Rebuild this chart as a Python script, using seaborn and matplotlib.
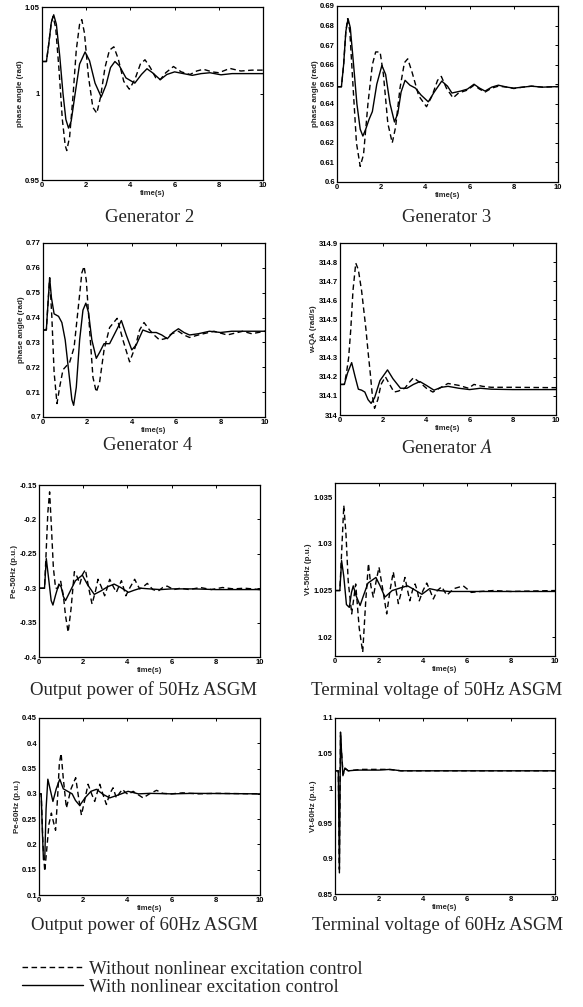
import pandas as pd
import matplotlib
matplotlib.use("Agg")
import matplotlib.pyplot as plt
from matplotlib.lines import Line2D
import seaborn as sns

sns.set_style("white")
plt.rcParams['font.family'] = ['Liberation Sans', 'DejaVu Sans']
plt.rcParams['mathtext.fontset'] = 'stix'

WITHOUT = 'Without nonlinear excitation control'
WITH = 'With nonlinear excitation control'

# ---- Generator 2 phase angle (rad)
g2_t_with = [0, 0.2, 0.3, 0.42, 0.53, 0.65, 0.8, 0.95, 1.08, 1.2, 1.32, 1.5, 1.7, 1.95, 2.15, 2.4, 2.68, 2.9, 3.1, 3.3,
             3.5, 3.8, 4.2, 4.5, 4.75, 5.0, 5.35, 5.65, 6.0, 6.4, 6.8, 7.2, 7.6, 8.1, 8.6, 9.2, 10]
g2_with = [1.0185, 1.0185, 1.028, 1.041, 1.0455, 1.040, 1.022, 1.000, 0.985, 0.980, 0.984, 1.000, 1.017, 1.024, 1.019,
           1.006, 0.998, 1.005, 1.015, 1.0185, 1.016, 1.009, 1.006, 1.011, 1.0143, 1.012, 1.008, 1.011, 1.0125, 1.0115,
           1.0105, 1.0115, 1.012, 1.0108, 1.0115, 1.0115, 1.0115]
g2_t_without = [0, 0.2, 0.3, 0.42, 0.5, 0.62, 0.78, 0.92, 1.05, 1.12, 1.25, 1.4, 1.55, 1.7, 1.8, 1.92, 2.1, 2.3, 2.48,
                2.65, 2.85, 3.05, 3.25, 3.45, 3.7, 3.95, 4.2, 4.45, 4.66, 4.9, 5.15, 5.35, 5.6, 5.95, 6.3, 6.7, 7.0,
                7.3, 7.7, 8.0, 8.5, 9.0, 9.5, 10]
g2_without = [1.0185, 1.0185, 1.028, 1.041, 1.0445, 1.038, 1.012, 0.985, 0.970, 0.967, 0.975, 0.998, 1.025, 1.040,
              1.0427, 1.035, 1.010, 0.992, 0.9886, 0.998, 1.015, 1.025, 1.027, 1.020, 1.007, 1.0025, 1.008, 1.017,
              1.0195, 1.015, 1.009, 1.008, 1.012, 1.0156, 1.0125, 1.011, 1.013, 1.014, 1.0125, 1.012, 1.0145, 1.013,
              1.0135, 1.0135]

# ---- Generator 3 phase angle (rad)
g3_t_with = [0, 0.2, 0.3, 0.4, 0.5, 0.6, 0.75, 0.9, 1.05, 1.17, 1.3, 1.45, 1.6, 1.8, 2.03, 2.2, 2.4, 2.6, 2.75, 2.9,
             3.08, 3.3, 3.55, 3.8, 4.13, 4.4, 4.74, 5.0, 5.2, 5.6, 5.9, 6.2, 6.45, 6.7, 7.0, 7.3, 7.7, 8.0, 8.4, 8.8,
             9.3, 10]
g3_with = [0.6487, 0.6487, 0.660, 0.677, 0.6835, 0.679, 0.660, 0.640, 0.627, 0.6235, 0.627, 0.632, 0.636, 0.650,
           0.6596, 0.655, 0.640, 0.6307, 0.635, 0.646, 0.652, 0.6495, 0.648, 0.6445, 0.641, 0.646, 0.6516, 0.649,
           0.6455, 0.6465, 0.6475, 0.650, 0.648, 0.6465, 0.6485, 0.6495, 0.6485, 0.648, 0.6485, 0.649, 0.6485, 0.6488]
g3_t_without = [0, 0.2, 0.3, 0.4, 0.48, 0.58, 0.72, 0.88, 1.05, 1.2, 1.4, 1.6, 1.75, 1.95, 2.1, 2.3, 2.5, 2.65, 2.85,
                3.05, 3.2, 3.4, 3.7, 4.05, 4.3, 4.55, 4.72, 4.95, 5.25, 5.5, 5.9, 6.2, 6.45, 6.7, 7.0, 7.3, 7.7, 8.0,
                8.4, 8.8, 9.3, 10]
g3_without = [0.6487, 0.6487, 0.660, 0.677, 0.6835, 0.677, 0.650, 0.620, 0.608, 0.614, 0.640, 0.660, 0.6665, 0.6665,
              0.655, 0.630, 0.620, 0.628, 0.648, 0.661, 0.663, 0.656, 0.644, 0.6385, 0.644, 0.652, 0.654, 0.648,
              0.643, 0.6455, 0.647, 0.6495, 0.6475, 0.646, 0.648, 0.649, 0.6485, 0.6478, 0.6485, 0.649, 0.6485, 0.6488]

# ---- Generator 4 phase angle (rad)
g4_t_with = [0, 0.15, 0.22, 0.3, 0.38, 0.5, 0.7, 0.85, 1.0, 1.15, 1.3, 1.38, 1.5, 1.65, 1.8, 1.93, 2.05, 2.2, 2.4,
             2.55, 2.75, 3.0, 3.2, 3.53, 3.75, 4.0, 4.2, 4.5, 4.8, 5.1, 5.35, 5.6, 5.85, 6.1, 6.35, 6.6, 7.0, 7.5, 8.0,
             8.5, 10]
g4_with = [0.735, 0.735, 0.745, 0.756, 0.748, 0.7415, 0.7405, 0.738, 0.731, 0.719, 0.707, 0.7047, 0.712, 0.731, 0.743,
           0.7458, 0.742, 0.731, 0.7236, 0.726, 0.7295, 0.7295, 0.733, 0.7388, 0.733, 0.727, 0.729, 0.735, 0.734,
           0.734, 0.733, 0.7315, 0.734, 0.7355, 0.734, 0.733, 0.7335, 0.7345, 0.734, 0.7345, 0.7345]
g4_t_without = [0, 0.15, 0.22, 0.3, 0.4, 0.5, 0.63, 0.75, 0.9, 1.0, 1.2, 1.4, 1.6, 1.75, 1.85, 1.95, 2.1, 2.25, 2.4,
                2.55, 2.75, 3.0, 3.34, 3.6, 3.9, 4.15, 4.35, 4.55, 4.8, 5.0, 5.25, 5.5, 5.8, 6.1, 6.35, 6.6, 7.0, 7.7,
                8.3, 9.0, 9.4, 10]
g4_without = [0.735, 0.735, 0.745, 0.756, 0.740, 0.718, 0.7054, 0.712, 0.719, 0.720, 0.722, 0.728, 0.745, 0.758,
              0.7606, 0.755, 0.735, 0.716, 0.710, 0.714, 0.727, 0.736, 0.7397, 0.731, 0.7222, 0.728, 0.735, 0.738,
              0.735, 0.733, 0.731, 0.7315, 0.7335, 0.7345, 0.733, 0.732, 0.733, 0.7345, 0.733, 0.7345, 0.7335, 0.7345]

# ---- Generator A speed (rad/s)
ga_t_with = [0, 0.2, 0.35, 0.54, 0.7, 0.85, 1.0, 1.15, 1.3, 1.44, 1.6, 1.85, 2.2, 2.45, 2.8, 3.1, 3.4, 3.7, 4.0, 4.35,
             4.7, 5.0, 5.5, 6.0, 6.5, 7.0, 8.0, 10]
ga_with = [314.16, 314.16, 314.22, 314.274, 314.20, 314.135, 314.13, 314.12, 314.08, 314.061, 314.09, 314.18, 314.236,
           314.19, 314.14, 314.14, 314.16, 314.175, 314.155, 314.13, 314.145, 314.15, 314.14, 314.133, 314.14,
           314.135, 314.133, 314.133]
ga_t_without = [0, 0.2, 0.3, 0.4, 0.5, 0.6, 0.73, 0.85, 1.0, 1.1, 1.2, 1.3, 1.4, 1.5, 1.6, 1.75, 1.9, 2.1, 2.3, 2.5,
                2.7, 3.0, 3.2, 3.4, 3.7, 4.0, 4.3, 4.6, 5.0, 5.5, 5.95, 6.2, 6.6, 7.0, 8.0, 10]
ga_without = [314.16, 314.16, 314.22, 314.30, 314.45, 314.65, 314.795, 314.76, 314.65, 314.55, 314.45, 314.33, 314.22,
              314.10, 314.035, 314.08, 314.16, 314.20, 314.16, 314.12, 314.125, 314.14, 314.17, 314.195, 314.17,
              314.14, 314.12, 314.14, 314.165, 314.155, 314.14, 314.16, 314.15, 314.145, 314.145, 314.143]

# ---- Output power of 50Hz ASGM (p.u.)
p50_t_with = [0, 0.25, 0.33, 0.45, 0.55, 0.63, 0.75, 0.9, 1.0, 1.1, 1.2, 1.4, 1.65, 1.96, 2.2, 2.5, 2.8, 3.1, 3.4, 3.7,
              4.05, 4.3, 4.6, 5.0, 5.5, 6.0, 7.0, 8.0, 10]
p50_with = [-0.30, -0.30, -0.257, -0.29, -0.318, -0.3245, -0.31, -0.294, -0.298, -0.312, -0.318, -0.305, -0.289,
            -0.281, -0.295, -0.309, -0.304, -0.298, -0.294, -0.299, -0.306, -0.303, -0.300, -0.301, -0.302, -0.301,
            -0.301, -0.302, -0.302]
p50_t_without = [0, 0.25, 0.32, 0.4, 0.48, 0.56, 0.65, 0.75, 0.85, 0.98, 1.1, 1.2, 1.32, 1.45, 1.6, 1.72, 1.85, 1.97,
                 2.1, 2.25, 2.4, 2.55, 2.67, 2.82, 2.97, 3.08, 3.2, 3.35, 3.5, 3.62, 3.73, 3.83, 3.93, 4.1, 4.33, 4.45,
                 4.56, 4.75, 4.9, 5.15, 5.4, 5.6, 5.8, 6.1, 6.4, 6.8, 7.3, 7.8, 8.3, 8.8, 9.3, 10]
p50_without = [-0.30, -0.30, -0.25, -0.19, -0.16, -0.21, -0.27, -0.30, -0.30, -0.29, -0.31, -0.34, -0.364, -0.33,
               -0.276, -0.283, -0.294, -0.28, -0.273, -0.30, -0.323, -0.305, -0.287, -0.298, -0.311, -0.30, -0.287,
               -0.297, -0.306, -0.297, -0.289, -0.30, -0.311, -0.30, -0.287, -0.295, -0.301, -0.297, -0.293, -0.302,
               -0.304, -0.299, -0.297, -0.302, -0.300, -0.302, -0.299, -0.302, -0.299, -0.301, -0.300, -0.302]

# ---- Terminal voltage of 50Hz ASGM (p.u.)
v50_t_with = [0, 0.22, 0.3, 0.4, 0.52, 0.65, 0.75, 0.83, 0.95, 1.14, 1.3, 1.5, 1.86, 2.05, 2.27, 2.6, 3.0, 3.3, 3.6,
              3.95, 4.3, 4.7, 5.2, 6.0, 10]
v50_with = [1.025, 1.025, 1.0282, 1.0265, 1.0235, 1.0232, 1.0248, 1.0255, 1.0245, 1.0234, 1.0245, 1.0258, 1.0264,
            1.0255, 1.0243, 1.0250, 1.0253, 1.0255, 1.0251, 1.0246, 1.0252, 1.0250, 1.0249, 1.0249, 1.0249]
v50_t_without = [0, 0.22, 0.3, 0.4, 0.5, 0.6, 0.76, 0.94, 1.1, 1.26, 1.4, 1.52, 1.63, 1.74, 1.87, 2.0, 2.18, 2.35, 2.5,
                 2.65, 2.78, 2.88, 3.03, 3.18, 3.3, 3.4, 3.52, 3.64, 3.74, 3.83, 4.0, 4.17, 4.32, 4.47, 4.65, 4.85,
                 5.08, 5.4, 5.83, 6.2, 6.6, 7.2, 8.0, 10]
v50_without = [1.025, 1.025, 1.029, 1.0341, 1.031, 1.026, 1.0225, 1.0257, 1.021, 1.0184, 1.024, 1.0279, 1.0255,
               1.0243, 1.026, 1.0275, 1.025, 1.0225, 1.025, 1.027, 1.025, 1.0236, 1.025, 1.0264, 1.025, 1.0239, 1.025,
               1.0257, 1.025, 1.0239, 1.025, 1.0258, 1.025, 1.0241, 1.025, 1.0254, 1.0245, 1.0252, 1.0255, 1.0248,
               1.0249, 1.025, 1.0249, 1.025]

# ---- Output power of 60Hz ASGM (p.u.)
p60_t_with = [0, 0.1, 0.15, 0.2, 0.26, 0.32, 0.4, 0.5, 0.63, 0.78, 0.94, 1.1, 1.3, 1.5, 1.65, 1.84, 2.1, 2.35, 2.6,
              2.9, 3.2, 3.6, 4.03, 4.5, 5.0, 6.0, 7.0, 10]
p60_with = [0.30, 0.30, 0.228, 0.17, 0.17, 0.27, 0.329, 0.31, 0.285, 0.31, 0.329, 0.31, 0.305, 0.300, 0.287, 0.277,
            0.293, 0.305, 0.309, 0.299, 0.292, 0.298, 0.305, 0.300, 0.301, 0.300, 0.301, 0.300]
p60_t_without = [0, 0.1, 0.18, 0.26, 0.35, 0.45, 0.56, 0.65, 0.75, 0.85, 0.92, 1.0, 1.1, 1.24, 1.45, 1.66, 1.8, 1.92,
                 2.08, 2.22, 2.38, 2.52, 2.65, 2.75, 2.9, 3.05, 3.2, 3.35, 3.5, 3.65, 3.78, 3.9, 4.03, 4.15, 4.26, 4.5,
                 4.71, 5.0, 5.32, 5.6, 6.0, 6.5, 7.2, 8.0, 10]
p60_without = [0.30, 0.30, 0.20, 0.147, 0.19, 0.24, 0.262, 0.245, 0.228, 0.30, 0.36, 0.38, 0.33, 0.272, 0.31, 0.332,
               0.29, 0.258, 0.29, 0.319, 0.30, 0.285, 0.305, 0.319, 0.298, 0.279, 0.30, 0.312, 0.292, 0.302, 0.309,
               0.303, 0.299, 0.302, 0.305, 0.298, 0.292, 0.300, 0.307, 0.301, 0.300, 0.302, 0.300, 0.301, 0.300]

# ---- Terminal voltage of 60Hz ASGM (p.u.)
v60_t_with = [0, 0.15, 0.2, 0.25, 0.3, 0.36, 0.45, 0.6, 1.0, 2.0, 2.5, 3.0, 10]
v60_with = [1.025, 1.025, 0.88, 1.08, 1.05, 1.018, 1.029, 1.025, 1.026, 1.026, 1.027, 1.025, 1.025]
v60_t_without = [0, 0.15, 0.2, 0.25, 0.3, 0.37, 0.47, 0.6, 1.2, 2.4, 3.0, 10]
v60_without = [1.025, 1.025, 0.885, 1.075, 1.05, 1.02, 1.028, 1.025, 1.027, 1.027, 1.025, 1.025]

x_ticks = [0, 2, 4, 6, 8, 10]

panels = [
    # (t_with, with, t_without, without, ylabel, ylim, yticks, caption, box px (l, t, r, b), caption px (x, y))
    (g2_t_with, g2_with, g2_t_without, g2_without, 'phase angle (rad)', (0.95, 1.05), [0.95, 1, 1.05],
     'Generator 2', (42, 7, 263, 180), (150, 217)),
    (g3_t_with, g3_with, g3_t_without, g3_without, 'phase angle (rad)', (0.6, 0.69),
     [0.6, 0.61, 0.62, 0.63, 0.64, 0.65, 0.66, 0.67, 0.68, 0.69], 'Generator 3', (337, 6, 558, 182), (447, 217)),
    (g4_t_with, g4_with, g4_t_without, g4_without, 'phase angle (rad)', (0.7, 0.77),
     [0.7, 0.71, 0.72, 0.73, 0.74, 0.75, 0.76, 0.77], 'Generator 4', (43, 243, 265, 417), (148, 445)),
    (ga_t_with, ga_with, ga_t_without, ga_without, 'w-QA (rad/s)', (314, 314.9),
     [314, 314.1, 314.2, 314.3, 314.4, 314.5, 314.6, 314.7, 314.8, 314.9], 'Generator $A$', (340, 243, 556, 415),
     (447, 448)),
    (p50_t_with, p50_with, p50_t_without, p50_without, 'Pe-50Hz (p.u.)', (-0.4, -0.15),
     [-0.4, -0.35, -0.3, -0.25, -0.2, -0.15], 'Output power of 50Hz ASGM', (39, 485, 260, 657), (144, 690)),
    (v50_t_with, v50_with, v50_t_without, v50_without, 'Vt-50Hz (p.u.)', (1.018, 1.0365),
     [1.02, 1.025, 1.03, 1.035], 'Terminal voltage of 50Hz ASGM', (335, 483, 555, 656), (437, 690)),
    (p60_t_with, p60_with, p60_t_without, p60_without, 'Pe-60Hz (p.u.)', (0.1, 0.45),
     [0.1, 0.15, 0.2, 0.25, 0.3, 0.35, 0.4, 0.45], 'Output power of 60Hz ASGM', (39, 718, 260, 895), (144, 925)),
    (v60_t_with, v60_with, v60_t_without, v60_without, 'Vt-60Hz (p.u.)', (0.85, 1.1),
     [0.85, 0.9, 0.95, 1, 1.05, 1.1], 'Terminal voltage of 60Hz ASGM', (335, 718, 555, 894), (438, 925)),
]

W, H = 583, 1007
fig = plt.figure(figsize=(W / 100, H / 100), dpi=100)

for t_w, y_w, t_wo, y_wo, ylab, ylim, yticks, caption, (l, t, r, b), (cx, cy) in panels:
    ax = fig.add_axes([l / W, 1 - b / H, (r - l) / W, (b - t) / H])
    df = pd.concat([
        pd.DataFrame({'t': t_wo, 'v': y_wo, 'control': WITHOUT}),
        pd.DataFrame({'t': t_w, 'v': y_w, 'control': WITH}),
    ])
    sns.lineplot(data=df, x='t', y='v', hue='control', style='control',
                 palette={WITHOUT: 'black', WITH: 'black'},
                 dashes={WITHOUT: (4, 2.5), WITH: ''},
                 estimator=None, sort=False, legend=False, linewidth=1.0, ax=ax)
    ax.set_xlim(0, 10)
    ax.set_ylim(*ylim)
    ax.set_xticks(x_ticks)
    ax.set_xticklabels([f'{v:g}' for v in x_ticks])
    ax.set_yticks(yticks)
    ax.set_yticklabels([f'{v:g}' for v in yticks])
    ax.tick_params(direction='in', top=True, right=True, length=2.5, width=0.7, pad=1.5,
                   labelsize=5.5, colors='black')
    for lab in ax.get_xticklabels() + ax.get_yticklabels():
        lab.set_fontweight('bold')
    ax.set_xlabel('time(s)', fontsize=5.5, fontweight='bold', labelpad=1)
    ax.set_ylabel(ylab, fontsize=5.8, fontweight='bold', labelpad=1)
    for s in ax.spines.values():
        s.set_color('black')
        s.set_linewidth(0.9)
    fig.text(cx / W, 1 - cy / H, caption, ha='center', va='center', fontsize=13.5,
             family=['Liberation Serif', 'DejaVu Serif'])

handles = [Line2D([], [], color='black', lw=1.0, dashes=(4, 2.5)),
           Line2D([], [], color='black', lw=1.0)]
fig.legend(handles, [WITHOUT, WITH], loc='upper left', bbox_to_anchor=(14 / W, 1 - 953 / H),
           frameon=False, handlelength=3.3, handletextpad=0.3, labelspacing=0.05, borderaxespad=0,
           prop={'family': ['Liberation Serif', 'DejaVu Serif'], 'size': 13.5})

fig.savefig('out.png', dpi=100, facecolor='white')
